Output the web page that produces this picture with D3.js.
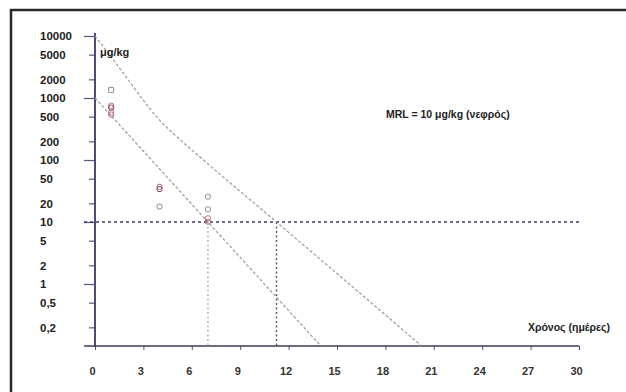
<!DOCTYPE html>
<html>
<head>
<meta charset="utf-8">
<script src="https://cdn.jsdelivr.net/npm/d3@7"></script>
<style>
  body { margin: 0; background: #fff; }
  text { font-family: "Liberation Sans", Arial, sans-serif; font-weight: bold; }
</style>
</head>
<body>
<script>
const width = 626;
const height = 392;

// tick labels
const yTicks = [10000, 5000, 2000, 1000, 500, 200, 100, 50, 20, 10, 5, 2, 1, 0.5, 0.2];
const xTicks = [0, 3, 6, 9, 12, 15, 18, 21, 24, 27, 30];

// measured residues (day, µg/kg, kind)
const pointDays = [1, 1, 1, 1, 1, 4, 4, 4, 7, 7, 7, 7];
const pointValues = [1350, 750, 700, 580, 540, 37, 34, 17.7, 25.6, 16, 11.5, 10.1];
const pointKinds = ["g", "r", "d", "r", "r", "r", "d", "g", "g", "g", "r", "r"];

// upper depletion curve
const upperDays = [0, 1, 2, 3, 4, 5, 6.5, 11.25, 20.25];
const upperValues = [10000, 4600, 2060, 915, 440, 247, 112, 10, 0.1];

// lower depletion line
const lowerDays = [0, 7, 14];
const lowerValues = [1000, 10, 0.1];

const mrl = 10;
const mrlDays = [7, 11.25];

const svg = d3.select("body").append("svg")
    .attr("width", width)
    .attr("height", height);

svg.append("rect").attr("width", width).attr("height", height).attr("fill", "#fff");

// frame
svg.append("path")
    .attr("d", "M11,392V10H626")
    .attr("fill", "none")
    .attr("stroke", "#2a2a2a")
    .attr("stroke-width", 2.5);

const x = d3.scaleLinear().domain([0, 30]).range([95, 579]);
const y = d3.scaleLog().domain([0.1, 10000]).range([346, 36]);

// y axis
const yAxis = svg.append("g")
    .attr("transform", "translate(" + x(0) + ",0)")
    .call(d3.axisLeft(y).tickValues(yTicks).tickSize(6)
        .tickFormat(d => String(d).replace(".", ",")));
yAxis.select(".domain").remove();
yAxis.selectAll(".tick line")
    .attr("stroke", "#55557a")
    .attr("stroke-width", 1.2)
    .attr("x2", d => Number.isInteger(Math.log10(d)) ? -11 : -6);
yAxis.selectAll(".tick text")
    .attr("x", 40 - x(0))
    .attr("text-anchor", "start")
    .attr("fill", "#222")
    .style("font-size", "11.5px");

svg.append("line")
    .attr("x1", x(0)).attr("x2", x(0))
    .attr("y1", 33).attr("y2", 347)
    .attr("stroke", "#4b4b7d")
    .attr("stroke-width", 2);

// x axis
const xAxis = svg.append("g")
    .attr("transform", "translate(0," + y(0.1) + ")")
    .call(d3.axisBottom(x).tickValues(xTicks).tickSize(4).tickPadding(17));
xAxis.select(".domain").remove();
xAxis.selectAll(".tick line").attr("stroke", "#55557a");
xAxis.selectAll(".tick text")
    .attr("dx", -3)
    .attr("fill", "#333")
    .style("font-size", "11px");

svg.append("line")
    .attr("x1", 84).attr("x2", x(30))
    .attr("y1", y(0.1)).attr("y2", y(0.1))
    .attr("stroke", "#3b3b5b")
    .attr("stroke-width", 1.6);

// MRL lines
svg.append("line")
    .attr("x1", 84).attr("x2", x(30))
    .attr("y1", y(mrl)).attr("y2", y(mrl))
    .attr("stroke", "#3a3a70")
    .attr("stroke-width", 1.6)
    .attr("stroke-dasharray", "3,3");

svg.selectAll(".vline")
    .data(mrlDays)
    .enter()
    .append("line")
    .attr("x1", d => x(d)).attr("x2", d => x(d))
    .attr("y1", y(mrl)).attr("y2", y(0.1))
    .attr("stroke", (d, i) => i === 0 ? "#b0b0b0" : "#555")
    .attr("stroke-width", 1.4)
    .attr("stroke-dasharray", "2,2.5");

// depletion lines
const line = d3.line()
    .x(d => x(d[0]))
    .y(d => y(d[1]));

svg.append("path")
    .attr("d", line.curve(d3.curveMonotoneX)(d3.zip(upperDays, upperValues)))
    .attr("fill", "none")
    .attr("stroke", "#9a9a9a")
    .attr("stroke-width", 1.2)
    .attr("stroke-dasharray", "3,2");

svg.append("path")
    .attr("d", line.curve(d3.curveLinear)(d3.zip(lowerDays, lowerValues)))
    .attr("fill", "none")
    .attr("stroke", "#9a9a9a")
    .attr("stroke-width", 1.2)
    .attr("stroke-dasharray", "3,2");

// points
const kindColor = { g: "#8a8a8a", r: "#b86a78", d: "#7a3a4a" };
svg.selectAll(".pt")
    .data(d3.range(pointDays.length))
    .enter()
    .append("rect")
    .attr("x", i => x(pointDays[i]) - 2.5)
    .attr("y", i => y(pointValues[i]) - 2.5)
    .attr("width", 5)
    .attr("height", 5)
    .attr("rx", i => pointKinds[i] === "g" && pointDays[i] === 1 ? 0.5 : 2)
    .attr("fill", "none")
    .attr("stroke", i => kindColor[pointKinds[i]])
    .attr("stroke-width", 1);

// texts
svg.append("text")
    .attr("x", 100).attr("y", 56)
    .attr("fill", "#222")
    .style("font-size", "11px")
    .text("μg/kg");

svg.append("text")
    .attr("x", 386).attr("y", 118)
    .attr("fill", "#222")
    .style("font-size", "10.5px")
    .text("MRL = 10 μg/kg (νεφρός)");

svg.append("text")
    .attr("x", 610).attr("y", 331)
    .attr("text-anchor", "end")
    .attr("fill", "#222")
    .style("font-size", "10.5px")
    .text("Χρόνος (ημέρες)");
</script>
</body>
</html>
